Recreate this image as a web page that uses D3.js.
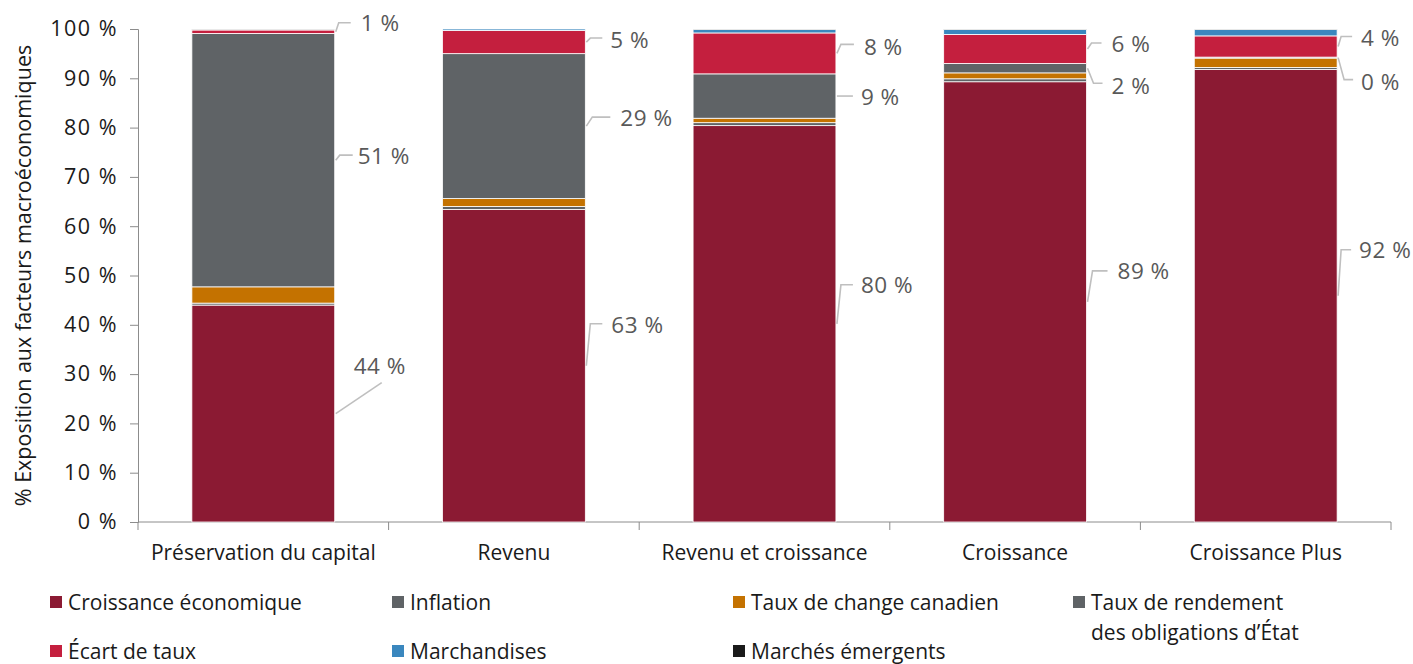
<!DOCTYPE html>
<html>
<head>
<meta charset="utf-8">
<title>Exposition aux facteurs macroéconomiques</title>
<script src="https://cdn.jsdelivr.net/npm/d3@7"></script>
<style>
	body { margin: 0; background: #fff; font-family: "Open Sans", sans-serif; }
	.axis text { font-family: "Open Sans", sans-serif; fill: #1a1a1a; }
	.axis path, .axis line { stroke: #8c8c8c; }
</style>
</head>
<body>
<script>

// DONNEES
var categories = ["Préservation du capital", "Revenu", "Revenu et croissance", "Croissance", "Croissance Plus"];
var seriesNames = ["Croissance économique", "Inflation", "Taux de change canadien",
	"Taux de rendement des obligations d’État", "Écart de taux", "Marchandises", "Marchés émergents"];
var croissanceEco    = [44.0, 63.4, 80.4, 89.3, 91.8];
var inflation        = [0.4, 0.6, 0.6, 0.6, 0.4];
var tauxChange       = [3.3, 1.6, 0.9, 1.2, 1.9];
var tauxRendement    = [51.4, 29.4, 9.0, 1.9, 0.2];
var ecartTaux        = [0.7, 4.7, 8.3, 5.9, 4.3];
var marchandises     = [0.1, 0.3, 0.7, 1.0, 1.3];
var marchesEmergents = [0.1, 0.0, 0.1, 0.1, 0.1];
var yTicks = [0, 10, 20, 30, 40, 50, 60, 70, 80, 90, 100];

var seriesValues = [croissanceEco, inflation, tauxChange, tauxRendement, ecartTaux, marchandises, marchesEmergents];
var colors = ["#8b1a33", "#5f6366", "#c47200", "#5f6366", "#c41f3e", "#3a87be", "#1a1a1a"];

// TABLE POUR LE STACK
var table = categories.map(function(c, i) {
	var row = { cat: c };
	seriesValues.forEach(function(v, k) { row["s" + k] = v[i]; });
	return row;
});
var keys = seriesValues.map(function(v, k) { return "s" + k; });
var stacked = d3.stack().keys(keys)(table);

// MARGES SVG
var W = 1413, H = 664;
var margin = { top: 29, right: 22, bottom: 142, left: 138 };
var width = W - margin.left - margin.right;
var height = H - margin.top - margin.bottom;

var svg = d3.select("body").append("svg")
	.attr("width", W)
	.attr("height", H);
var g = svg.append("g")
	.attr("transform", "translate(" + margin.left + "," + margin.top + ")");

// ECHELLES
var x = d3.scaleBand().domain(categories).range([0, width]).paddingInner(0.43).paddingOuter(0.215);
var xb = d3.scaleBand().domain(categories).range([0, width]);
var y = d3.scaleLinear().domain([0, 100]).range([height, 0]);

// AXE Y
var yAxis = d3.axisLeft(y).tickValues(yTicks).tickSize(8).tickPadding(12)
	.tickFormat(function(d) { return d + " %"; });
var gy = g.append("g").attr("class", "axis").call(yAxis);
gy.selectAll("text").style("font-size", "21.5px").style("letter-spacing", "1.5px");

// AXE X (traits entre les categories)
g.append("line")
	.attr("x1", 0).attr("x2", width).attr("y1", height).attr("y2", height)
	.attr("stroke", "#8c8c8c");
g.selectAll(".xtick").data(d3.range(categories.length + 1)).enter().append("line")
	.attr("x1", function(i) { return i * xb.step(); })
	.attr("x2", function(i) { return i * xb.step(); })
	.attr("y1", height).attr("y2", height + 8)
	.attr("stroke", "#8c8c8c");
g.selectAll(".xlabel").data(categories).enter().append("text")
	.attr("x", function(d) { return xb(d) + xb.bandwidth() / 2; })
	.attr("y", height + 38)
	.attr("text-anchor", "middle")
	.style("font-size", "21px").style("fill", "#1a1a1a")
	.text(function(d) { return d; });

// TITRE AXE Y
svg.append("text")
	.attr("transform", "translate(22," + (margin.top + height / 2) + ") rotate(-90)")
	.attr("text-anchor", "middle")
	.attr("dominant-baseline", "central")
	.style("font-size", "21.5px").style("fill", "#1a1a1a")
	.text("% Exposition aux facteurs macroéconomiques");

// BARRES EMPILEES
var layers = g.selectAll(".layer").data(stacked).enter().append("g")
	.attr("fill", function(d, k) { return colors[k]; });
layers.selectAll("rect").data(function(d) { return d; }).enter().append("rect")
	.attr("x", function(d) { return x(d.data.cat); })
	.attr("width", x.bandwidth())
	.attr("y", function(d) { return y(d[1]); })
	.attr("height", function(d) { return Math.max(0, y(d[0]) - y(d[1])); })
	.attr("stroke", "#fff").attr("stroke-width", 0.8);

// ETIQUETTES (position du texte et ligne de rappel, relatives au bord droit du segment)
var labelLayout = [
	{ b: 0, s: 0, tx: 18, ty: -48, pts: [[46, -31]] },
	{ b: 0, s: 3, tx: 22, ty: -5, pts: [[4, -5], [17, -5]] },
	{ b: 0, s: 4, tx: 25, ty: -9, pts: [[3, -9], [15, -9]] },
	{ b: 1, s: 0, tx: 25, ty: -41, pts: [[4, -42], [16, -42]] },
	{ b: 1, s: 3, tx: 34, ty: -9, pts: [[6, -9], [24, -9]] },
	{ b: 1, s: 4, tx: 24, ty: -3, pts: [[4, -4], [16, -4]] },
	{ b: 2, s: 0, tx: 24, ty: -39, pts: [[4, -39], [16, -39]] },
	{ b: 2, s: 3, tx: 24, ty: 0, pts: [[16, 0]] },
	{ b: 2, s: 4, tx: 27, ty: -7, pts: [[4, -9], [17, -9]] },
	{ b: 3, s: 0, tx: 30, ty: -31, pts: [[5, -31], [20, -31]] },
	{ b: 3, s: 3, tx: 24, ty: 17, pts: [[6, 15], [15, 15]] },
	{ b: 3, s: 4, tx: 24, ty: -5, pts: [[4, -6], [14, -6]] },
	{ b: 4, s: 0, tx: 21, ty: -46, pts: [[3, -46], [13, -46]] },
	{ b: 4, s: 3, tx: 23, ty: 24, pts: [[6, 22], [15, 22]] },
	{ b: 4, s: 4, tx: 23, ty: -9, pts: [[3, -10], [14, -10]] }
];
labelLayout.forEach(function(L) {
	var seg = stacked[L.s][L.b];
	var x0 = x(categories[L.b]) + x.bandwidth() + 1;
	var y0 = (y(seg[0]) + y(seg[1])) / 2;
	var pts = [[x0, y0]].concat(L.pts.map(function(p) { return [x0 + p[0], y0 + p[1]]; }));
	g.append("path")
		.attr("d", d3.line()(pts))
		.attr("fill", "none").attr("stroke", "#bfbfbf").attr("stroke-width", 1.6);
	g.append("text")
		.attr("x", x0 + L.tx).attr("y", y0 + L.ty)
		.attr("dominant-baseline", "central")
		.style("font-size", "22.5px").style("letter-spacing", "0.5px").style("fill", "#595959")
		.text(Math.round(seriesValues[L.s][L.b]) + " %");
});

// LEGENDE
var legendX = [50, 392, 733, 1073];
var legendRows = [602, 651];
var legend = svg.selectAll(".leg").data(seriesNames).enter().append("g")
	.attr("transform", function(d, k) {
		return "translate(" + legendX[k % 4] + "," + legendRows[Math.floor(k / 4)] + ")";
	});
legend.append("rect")
	.attr("x", 0).attr("y", -6).attr("width", 12).attr("height", 12)
	.attr("fill", function(d, k) { return colors[k]; });
legend.append("text")
	.attr("x", 18).attr("y", 0)
	.attr("dominant-baseline", "central")
	.style("font-size", "21px").style("fill", "#1a1a1a")
	.each(function(d) {
		var t = d3.select(this);
		if (d.indexOf("des obligations") > 0) {
			t.append("tspan").attr("x", 18).attr("dy", 0).text("Taux de rendement");
			t.append("tspan").attr("x", 18).attr("dy", 30).text("des obligations d’État");
		} else {
			t.text(d);
		}
	});
</script>
</body>
</html>
